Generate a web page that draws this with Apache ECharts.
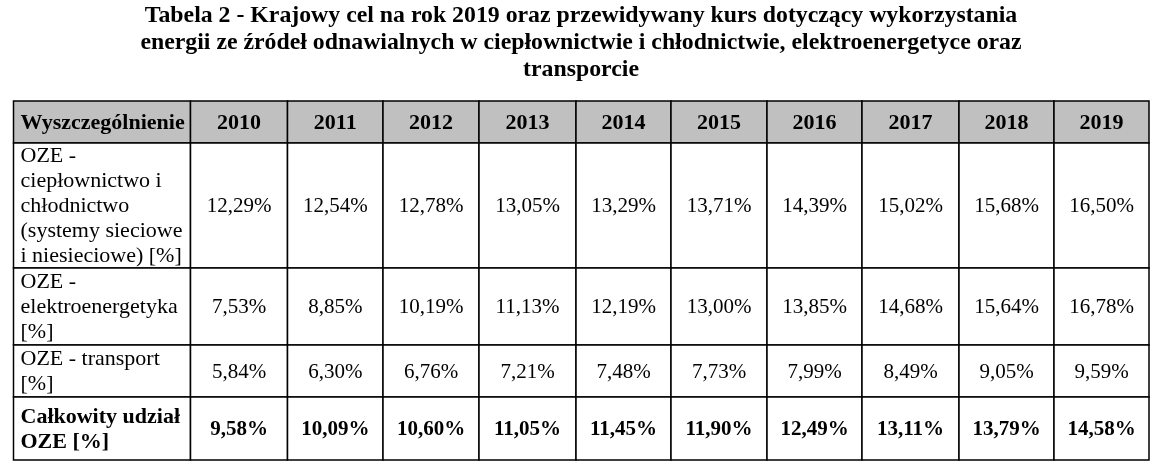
<!DOCTYPE html>
<html>
<head>
<meta charset="utf-8">
<script src="https://cdn.jsdelivr.net/npm/echarts@6/dist/echarts.min.js"></script>
<style>html,body{margin:0;padding:0;background:#fff}#c{width:1154px;height:467px}</style>
</head>
<body>
<div id="c"></div>
<script>
// ---- data ----
const titleText = 'Tabela 2 - Krajowy cel na rok 2019 oraz przewidywany kurs dotyczący wykorzystania\nenergii ze źródeł odnawialnych w ciepłownictwie i chłodnictwie, elektroenergetyce oraz\ntransporcie';
const headerLabel = 'Wyszczególnienie';
const years = ['2010','2011','2012','2013','2014','2015','2016','2017','2018','2019'];
const rowLabels = [
  'OZE -\nciepłownictwo i\nchłodnictwo\n(systemy sieciowe\ni niesieciowe) [%]',
  'OZE -\nelektroenergetyka\n[%]',
  'OZE - transport\n[%]',
  'Całkowity udział\nOZE [%]'
];
const heating = [12.29, 12.54, 12.78, 13.05, 13.29, 13.71, 14.39, 15.02, 15.68, 16.50];
const electricity = [7.53, 8.85, 10.19, 11.13, 12.19, 13.00, 13.85, 14.68, 15.64, 16.78];
const transport = [5.84, 6.30, 6.76, 7.21, 7.48, 7.73, 7.99, 8.49, 9.05, 9.59];
const total = [9.58, 10.09, 10.60, 11.05, 11.45, 11.90, 12.49, 13.11, 13.79, 14.58];

// ---- layout (not data) ----
const colWidths = [177, 97, 95.5, 96, 97, 95, 96, 95, 97, 95, 95];
const rowHeights = [42, 125, 77, 52, 63];
const colEdges = [0]; colWidths.forEach(w => colEdges.push(colEdges[colEdges.length-1] + w));
const rowEdges = [0]; rowHeights.forEach(h => rowEdges.push(rowEdges[rowEdges.length-1] + h));
const totalW = colEdges[colEdges.length-1], totalH = rowEdges[rowEdges.length-1];
const FONT = '"Liberation Serif", "Times New Roman", serif';

const fmt = v => v.toFixed(2).replace('.', ',') + '%';
const series = [heating, electricity, transport, total];

// cells: [col, row, text, bold(0/1), header(0/1)]
const cells = [];
cells.push([0, 0, headerLabel, 1, 1]);
years.forEach((y, i) => cells.push([i + 1, 0, y, 1, 1]));
rowLabels.forEach((lab, r) => {
  const bold = r === rowLabels.length - 1 ? 1 : 0;
  cells.push([0, r + 1, lab, bold, 0]);
  series[r].forEach((v, i) => cells.push([i + 1, r + 1, fmt(v), bold, 0]));
});

const chart = echarts.init(document.getElementById('c'));
chart.setOption({
  animation: false,
  backgroundColor: '#fff',
  graphic: [{
    type: 'text', x: 581, y: 2,
    style: {
      text: titleText, align: 'center', verticalAlign: 'top',
      fontFamily: FONT, fontWeight: 'bold', fontSize: 23.8, lineHeight: 27, fill: '#000'
    }
  }],
  grid: { left: 13.5, top: 101, width: totalW, height: totalH },
  xAxis: { type: 'value', min: 0, max: totalW, show: false },
  yAxis: { type: 'value', min: 0, max: totalH, inverse: true, show: false },
  series: [{
    type: 'custom',
    coordinateSystem: 'cartesian2d',
    data: cells,
    encode: { x: 0, y: 1 },
    renderItem: function (params, api) {
      const col = api.value(0), row = api.value(1);
      const d = cells[params.dataIndex];
      const p0 = api.coord([colEdges[col], rowEdges[row]]);
      const p1 = api.coord([colEdges[col + 1], rowEdges[row + 1]]);
      const w = p1[0] - p0[0], h = p1[1] - p0[1];
      const isLabelCol = col === 0;
      const isNumber = !isLabelCol && !d[4];
      return {
        type: 'group',
        children: [{
          type: 'rect',
          shape: { x: p0[0], y: p0[1], width: w, height: h },
          style: { fill: d[4] ? '#c0c0c0' : '#fff', stroke: '#000', lineWidth: 1.5 }
        }, {
          type: 'text',
          x: isLabelCol ? p0[0] + 7 : p0[0] + w / 2,
          y: p0[1] + h / 2 + 1,
          style: {
            text: d[2],
            align: isLabelCol ? 'left' : 'center',
            verticalAlign: 'middle',
            fontFamily: FONT,
            fontWeight: d[3] ? 'bold' : 'normal',
            fontSize: isNumber ? 21 : 22, lineHeight: 25, fill: '#000'
          }
        }]
      };
    }
  }]
});
</script>
</body>
</html>
